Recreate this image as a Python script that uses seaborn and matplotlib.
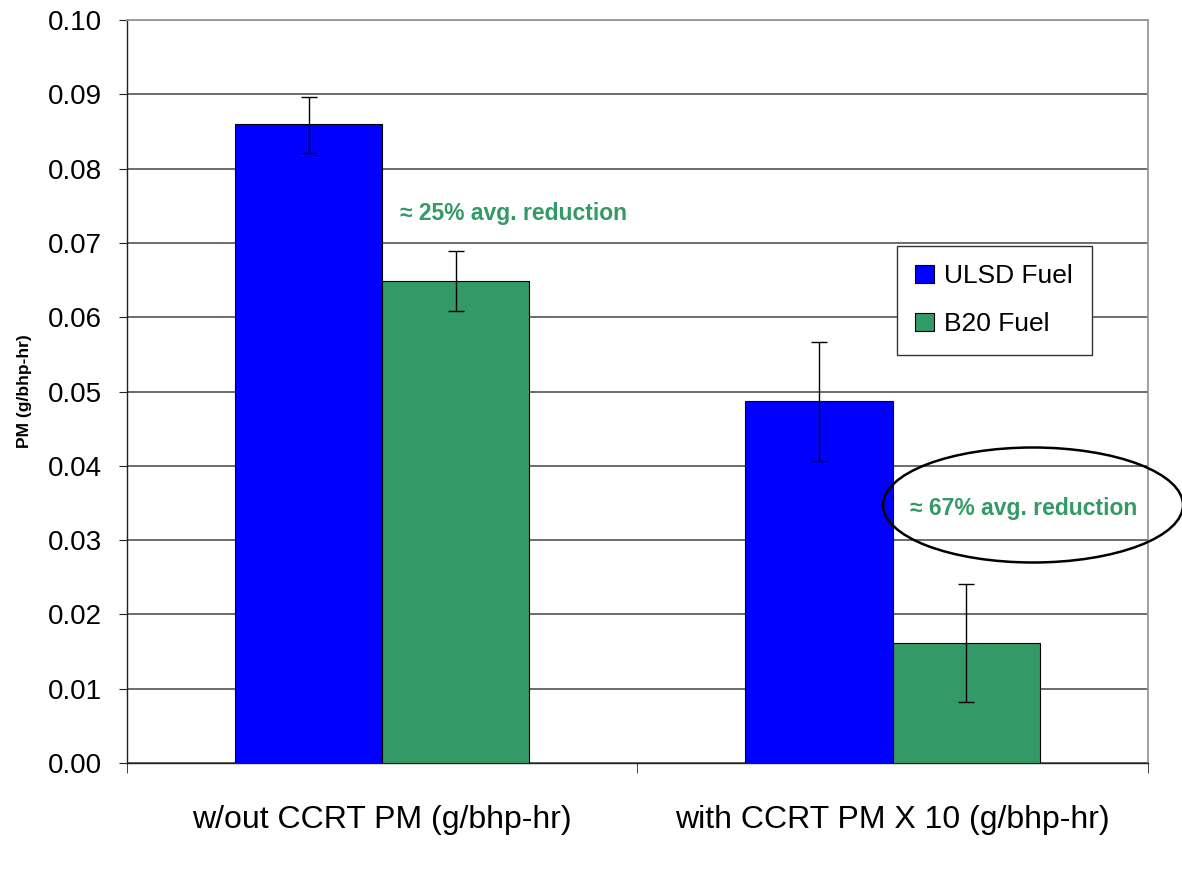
import matplotlib
matplotlib.use("Agg")
import matplotlib.pyplot as plt
import seaborn as sns
import pandas as pd
import numpy as np
from matplotlib.patches import Ellipse

categories = ["w/out CCRT PM (g/bhp-hr)", "with CCRT PM X 10 (g/bhp-hr)"]
fuels = ["ULSD Fuel", "B20 Fuel"]
ulsd_vals = [0.0860, 0.0487]
b20_vals = [0.0649, 0.0161]
ulsd_err_low = [0.0821, 0.0406]
ulsd_err_high = [0.0896, 0.0567]
b20_err_low = [0.0608, 0.0082]
b20_err_high = [0.0689, 0.0241]
yticks = [0.00, 0.01, 0.02, 0.03, 0.04, 0.05, 0.06, 0.07, 0.08, 0.09, 0.10]

sns.set_style("white")
plt.rcParams['font.family'] = ['Liberation Sans', 'DejaVu Sans']
plt.rcParams['text.color'] = 'black'
plt.rcParams['axes.labelcolor'] = 'black'
plt.rcParams['xtick.labelcolor'] = 'black'
plt.rcParams['ytick.labelcolor'] = 'black'

df = pd.DataFrame({
    "cat": categories * 2,
    "fuel": [fuels[0]] * 2 + [fuels[1]] * 2,
    "val": ulsd_vals + b20_vals,
})

fig = plt.figure(figsize=(11.82, 8.73), dpi=100)
ax = fig.add_axes([0.1074, 0.126, 0.8638, 0.851])

palette = {"ULSD Fuel": "#0000FF", "B20 Fuel": "#339966"}
sns.barplot(data=df, x="cat", y="val", hue="fuel", order=categories, hue_order=fuels,
            palette=palette, width=0.577, edgecolor="black", linewidth=0.8,
            errorbar=None, ax=ax, saturation=1, zorder=3)

lows = [ulsd_err_low, b20_err_low]
highs = [ulsd_err_high, b20_err_high]
vals = [ulsd_vals, b20_vals]
bar_containers = list(ax.containers)
for ci, cont in enumerate(bar_containers):
    xs = [p.get_x() + p.get_width() / 2 for p in cont.patches]
    v = np.array(vals[ci])
    lo = v - np.array(lows[ci])
    hi = np.array(highs[ci]) - v
    ax.errorbar(xs, v, yerr=[lo, hi], fmt="none", ecolor="black", elinewidth=1,
                capsize=6, capthick=1, zorder=4)

ax.set_ylim(0, 0.10)
ax.set_xlim(-0.5, 1.5)
ax.set_yticks(yticks)
ax.set_yticklabels([f"{t:.2f}" for t in yticks], fontsize=20, color="black")
ax.set_xticks([0, 1])
ax.set_xticklabels(categories, fontsize=23, color="black")
ax.set_xticks([-0.5, 0.5, 1.5], minor=True)
ax.tick_params(axis="x", which="major", length=0, pad=30)
ax.tick_params(axis="x", which="minor", length=7, color="#222222", direction="out", bottom=True)
ax.tick_params(axis="y", length=6, color="#222222", direction="out", left=True, pad=12)
ax.yaxis.grid(True, color="#444444", linewidth=1.1)
ax.set_axisbelow(True)
ax.set_xlabel("")
ax.set_ylabel("PM (g/bhp-hr)", fontsize=12.5, fontweight="bold", color="black")
ax.yaxis.set_label_coords(-0.093, 0.5)
for s in ["top", "right"]:
    ax.spines[s].set_color("#999999")
    ax.spines[s].set_linewidth(1.3)
for s in ["left", "bottom"]:
    ax.spines[s].set_color("#222222")
    ax.spines[s].set_linewidth(1)

leg = ax.legend(loc="upper left", bbox_to_anchor=(0.754, 0.696), fontsize=19,
                frameon=True, fancybox=False, edgecolor="#333333", framealpha=1,
                handlelength=0.7, handleheight=0.7, handletextpad=0.4,
                labelspacing=0.9, borderpad=0.7, borderaxespad=0)
leg.get_frame().set_linewidth(1)
for t in leg.get_texts():
    t.set_color("black")

green = "#339966"
ax.text(0.035, 0.0739, "\u2248 25% avg. reduction", color=green, fontsize=16.5,
        fontweight="bold", va="center", ha="left")
ax.text(1.033, 0.0342, "\u2248 67% avg. reduction", color=green, fontsize=16.5,
        fontweight="bold", va="center", ha="left")

ell = Ellipse((1033 / 1182, 1 - 505 / 873), 300 / 1182, 115 / 873,
              transform=fig.transFigure, fill=False, edgecolor="black",
              linewidth=1.8, clip_on=False, zorder=5)
fig.patches.append(ell)

fig.savefig("out.png", dpi=100)
